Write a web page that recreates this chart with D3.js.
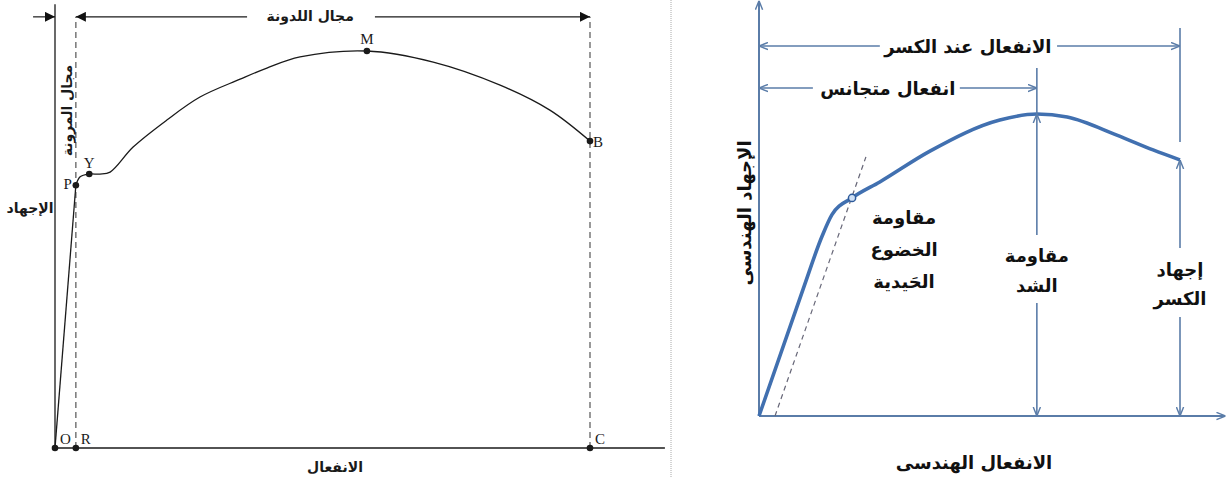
<!DOCTYPE html>
<html>
<head>
<meta charset="utf-8">
<script src="https://cdn.jsdelivr.net/npm/d3@7"></script>
<style>
  body { margin: 0; background: #fff; }
  .ar { font-family: "DejaVu Sans", sans-serif; font-weight: bold; }
</style>
</head>
<body>
<div id="viz"></div>
<script>
// ---- left panel: generic stress-strain curve (strain in % of C, stress in % of M)
var leftStrain = [0, 3.9, 4.7, 6.4, 8.4, 10.3, 14.6, 20.9, 27.1, 34.6, 39.6, 45.8, 58.3, 70.7, 83.2, 92.5, 100];
var leftStress = [0, 66.2, 68.3, 69.0, 69.0, 69.5, 75.8, 82.6, 88.4, 92.9, 95.7, 98.5, 100, 97.2, 91.4, 85.1, 77.3];
var leftNames  = ["O", "R", "P", "Y", "M", "B", "C"];
var leftNameX  = [0, 3.9, 3.9, 6.4, 58.3, 100, 100];
var leftNameY  = [0, 0, 66.2, 69.0, 100, 77.3, 0];

// ---- right panel: engineering stress-strain curve
var rightStrain = [0, 10.5, 15.0, 17.3, 22.1, 28.7, 40.6, 57.2, 66.0, 73.2, 85.0, 93.6, 100];
var rightStress = [0, 42.1, 59.6, 66.6, 72.2, 77.5, 87.7, 98.0, 100, 99.0, 93.0, 88.1, 84.8];
var offsetStrain = [3.8, 25.4];
var offsetStress = [0, 85.8];
var yieldIdx = 4, tensileIdx = 8, fractureIdx = 12;

var W = 1227, H = 477;
var svg = d3.select("#viz").append("svg").attr("width", W).attr("height", H);

var defs = svg.append("defs");
defs.append("marker").attr("id", "tri")
  .attr("viewBox", "0 0 10 10").attr("refX", 10).attr("refY", 5)
  .attr("markerUnits", "userSpaceOnUse").attr("markerWidth", 12).attr("markerHeight", 10)
  .attr("orient", "auto-start-reverse")
  .append("path").attr("d", "M0,0L10,5L0,10z").attr("fill", "#111");
defs.append("marker").attr("id", "chev")
  .attr("viewBox", "0 0 10 10").attr("refX", 10).attr("refY", 5)
  .attr("markerUnits", "userSpaceOnUse").attr("markerWidth", 9).attr("markerHeight", 9)
  .attr("orient", "auto-start-reverse")
  .append("path").attr("d", "M0,1L10,5L0,9").attr("fill", "none")
  .attr("stroke", "#5a7ca8").attr("stroke-width", 1.6);

// ================= LEFT =================
var xL = d3.scaleLinear().domain([0, 100]).range([55, 590]);
var yL = d3.scaleLinear().domain([0, 100]).range([448, 51]);
var L = svg.append("g");
var ink = "#1a1a1a";

// axes
L.append("line").attr("x1", xL(0)).attr("x2", xL(0)).attr("y1", yL(0)).attr("y2", yL(111.8))
  .attr("stroke", ink).attr("stroke-width", 1.3);
L.append("line").attr("x1", xL(0)).attr("x2", xL(114)).attr("y1", yL(0)).attr("y2", yL(0))
  .attr("stroke", ink).attr("stroke-width", 1.3);

// dashed limits at R and C
[3.9, 100].forEach(function (v) {
  L.append("line").attr("x1", xL(v)).attr("x2", xL(v)).attr("y1", yL(0)).attr("y2", yL(108.6))
    .attr("stroke", "#555").attr("stroke-width", 1.2).attr("stroke-dasharray", "6,4");
});

// range arrows on top
var topY = yL(108.6);
L.append("line").attr("x1", xL(-4.1)).attr("x2", xL(0)).attr("y1", topY).attr("y2", topY)
  .attr("stroke", ink).attr("stroke-width", 1.2).attr("marker-end", "url(#tri)");
L.append("line").attr("x1", xL(35.9)).attr("x2", xL(3.9)).attr("y1", topY).attr("y2", topY)
  .attr("stroke", ink).attr("stroke-width", 1.2).attr("marker-end", "url(#tri)");
L.append("line").attr("x1", xL(59.8)).attr("x2", xL(100)).attr("y1", topY).attr("y2", topY)
  .attr("stroke", ink).attr("stroke-width", 1.2).attr("marker-end", "url(#tri)");
L.append("text").attr("class", "ar").attr("x", xL(47.7)).attr("y", topY + 4)
  .attr("text-anchor", "middle").attr("font-size", 14).attr("fill", ink).text("مجال اللدونة");

// elastic range label (vertical)
L.append("text").attr("class", "ar")
  .attr("transform", "translate(" + (xL(2.3) + 5) + "," + yL(85) + ") rotate(-90)")
  .attr("text-anchor", "middle").attr("font-size", 14).attr("fill", ink).text("مجال المرونة");

// curve: elastic part straight, plastic part smooth
var lineL = d3.line().x(function (d) { return xL(d[0]); }).y(function (d) { return yL(d[1]); });
var ptsL = leftStrain.map(function (s, i) { return [s, leftStress[i]]; });
L.append("path").attr("d", lineL(ptsL.slice(0, 2))).attr("fill", "none")
  .attr("stroke", ink).attr("stroke-width", 1.3);
L.append("path").attr("d", lineL.curve(d3.curveCatmullRom.alpha(0.5))(ptsL.slice(1))).attr("fill", "none")
  .attr("stroke", ink).attr("stroke-width", 1.3);

// points + letters
var nameOff = {
  O: [5, -4, "start"], R: [5, -4, "start"], C: [5, -4, "start"],
  P: [-4, 4, "end"], Y: [0, -6, "middle"], M: [0, -7, "middle"], B: [3, 6, "start"]
};
leftNames.forEach(function (n, i) {
  var px = xL(leftNameX[i]), py = yL(leftNameY[i]);
  L.append("circle").attr("cx", px).attr("cy", py).attr("r", 3.3).attr("fill", ink);
  L.append("text").attr("x", px + nameOff[n][0]).attr("y", py + nameOff[n][1])
    .attr("text-anchor", nameOff[n][2]).attr("font-family", "Liberation Serif, serif")
    .attr("font-size", 15).attr("fill", ink).text(n);
});

L.append("text").attr("class", "ar").attr("x", 30).attr("y", 213)
  .attr("text-anchor", "middle").attr("font-size", 14).attr("fill", ink).text("الإجهاد");
L.append("text").attr("class", "ar").attr("x", 335).attr("y", 472)
  .attr("text-anchor", "middle").attr("font-size", 14).attr("fill", ink).text("الانفعال");

// panel separator
svg.append("line").attr("x1", 671).attr("x2", 671).attr("y1", 0).attr("y2", H)
  .attr("stroke", "#aaa").attr("stroke-width", 1).attr("stroke-dasharray", "1,1");

// ================= RIGHT =================
var xR = d3.scaleLinear().domain([0, 100]).range([759, 1180]);
var yR = d3.scaleLinear().domain([0, 100]).range([416, 114]);
var R = svg.append("g");
var axisCol = "#5a7ca8", curveCol = "#4170b0", txt = "#111";

// axes with arrows
R.append("line").attr("x1", xR(0)).attr("x2", xR(0)).attr("y1", yR(0)).attr("y2", yR(137.5))
  .attr("stroke", axisCol).attr("stroke-width", 2).attr("marker-end", "url(#chev)");
R.append("line").attr("x1", xR(0)).attr("x2", xR(110.8)).attr("y1", yR(0)).attr("y2", yR(0))
  .attr("stroke", axisCol).attr("stroke-width", 2).attr("marker-end", "url(#chev)");

// offset dashed line
R.append("line").attr("x1", xR(offsetStrain[0])).attr("x2", xR(offsetStrain[1]))
  .attr("y1", yR(offsetStress[0])).attr("y2", yR(offsetStress[1]))
  .attr("stroke", "#667").attr("stroke-width", 1.2).attr("stroke-dasharray", "5,4");

// curve
var ptsR = rightStrain.map(function (s, i) { return [s, rightStress[i]]; });
var lineR = d3.line().x(function (d) { return xR(d[0]); }).y(function (d) { return yR(d[1]); })
  .curve(d3.curveMonotoneX);
R.append("path").attr("d", lineR(ptsR)).attr("fill", "none")
  .attr("stroke", curveCol).attr("stroke-width", 3.6).attr("stroke-linejoin", "round");
R.append("circle").attr("cx", xR(rightStrain[yieldIdx])).attr("cy", yR(rightStress[yieldIdx]))
  .attr("r", 3.6).attr("fill", "#cfe0f5").attr("stroke", "#2d5a9a").attr("stroke-width", 1.5);

// vertical ticks above tensile and fracture points
var tX = rightStrain[tensileIdx], fX = rightStrain[fractureIdx];
R.append("line").attr("x1", xR(tX)).attr("x2", xR(tX)).attr("y1", yR(100)).attr("y2", yR(115.2))
  .attr("stroke", axisCol).attr("stroke-width", 1.6);
R.append("line").attr("x1", xR(fX)).attr("x2", xR(fX)).attr("y1", yR(90.7)).attr("y2", yR(128.5))
  .attr("stroke", axisCol).attr("stroke-width", 1.6);

// horizontal range arrows with a gap for the caption
function hArrow(level, x0, x1, gap0, gap1, label, cx) {
  R.append("line").attr("x1", xR(gap0)).attr("x2", xR(x0)).attr("y1", yR(level)).attr("y2", yR(level))
    .attr("stroke", axisCol).attr("stroke-width", 1.6).attr("marker-end", "url(#chev)");
  R.append("line").attr("x1", xR(gap1)).attr("x2", xR(x1)).attr("y1", yR(level)).attr("y2", yR(level))
    .attr("stroke", axisCol).attr("stroke-width", 1.6).attr("marker-end", "url(#chev)");
  R.append("text").attr("class", "ar").attr("x", xR(cx)).attr("y", yR(level) + 7)
    .attr("text-anchor", "middle").attr("font-size", 18).attr("fill", txt).text(label);
}
hArrow(122.5, 0, fX, 28.7, 70.8, "الانفعال عند الكسر", 49.6);
hArrow(108.6, 0, tX, 12.8, 47.7, "انفعال متجانس", 30.6);

// vertical double arrows with caption gap
function vArrow(x, top, gapTop, gapBot, lines, ys) {
  R.append("line").attr("x1", xR(x)).attr("x2", xR(x)).attr("y1", yR(gapTop)).attr("y2", yR(top))
    .attr("stroke", axisCol).attr("stroke-width", 1.6).attr("marker-end", "url(#chev)");
  R.append("line").attr("x1", xR(x)).attr("x2", xR(x)).attr("y1", yR(gapBot)).attr("y2", yR(0))
    .attr("stroke", axisCol).attr("stroke-width", 1.6).attr("marker-end", "url(#chev)");
  lines.forEach(function (t, i) {
    R.append("text").attr("class", "ar").attr("x", xR(x)).attr("y", ys[i])
      .attr("text-anchor", "middle").attr("font-size", 18).attr("fill", txt).text(t);
  });
}
vArrow(tX, rightStress[tensileIdx], 59.9, 37.4, ["مقاومة", "الشد"], [262, 292]);
vArrow(fX, rightStress[fractureIdx], 55.6, 32.8, ["إجهاد", "الكسر"], [276, 305]);

["مقاومة", "الخضوع", "الحَيدية"].forEach(function (t, i) {
  R.append("text").attr("class", "ar").attr("x", 904).attr("y", 224 + i * 32)
    .attr("text-anchor", "middle").attr("font-size", 18).attr("fill", txt).text(t);
});

R.append("text").attr("class", "ar").attr("transform", "translate(751,213) rotate(-90)")
  .attr("text-anchor", "middle").attr("font-size", 18).attr("fill", txt).text("الإجهاد الهندسى");
R.append("text").attr("class", "ar").attr("x", 974).attr("y", 469)
  .attr("text-anchor", "middle").attr("font-size", 18).attr("fill", txt).text("الانفعال الهندسى");
</script>
</body>
</html>
